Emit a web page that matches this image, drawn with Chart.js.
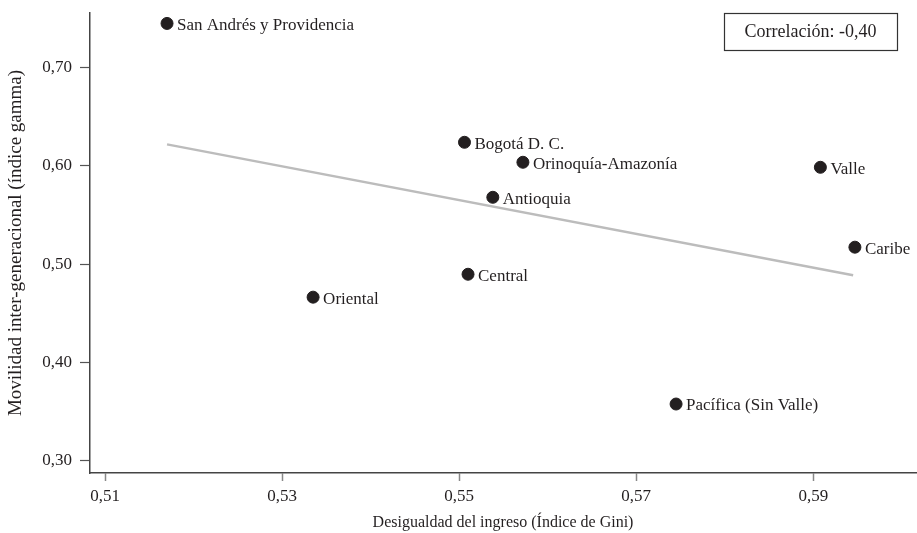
<!DOCTYPE html>
<html>
<head>
<meta charset="utf-8">
<script src="https://cdn.jsdelivr.net/npm/chart.js@4.4.0/dist/chart.umd.min.js"></script>
<style>
  html, body { margin: 0; padding: 0; background: #fff; }
  #wrap { width: 917px; height: 533px; }
</style>
</head>
<body>
<div id="wrap"><canvas id="giniChart"></canvas></div>
<script>
var regions = ['San Andrés y Providencia', 'Bogotá D. C.', 'Orinoquía-Amazonía', 'Antioquia',
    'Valle', 'Caribe', 'Central', 'Oriental', 'Pacífica (Sin Valle)'];
var gini = [0.5170, 0.5506, 0.5572, 0.5538, 0.5908, 0.5947, 0.5510, 0.5335, 0.5745];
var gamma = [0.7447, 0.6239, 0.6036, 0.5680, 0.5985, 0.5173, 0.4898, 0.4665, 0.3579];
var xTicks = [0.51, 0.53, 0.55, 0.57, 0.59];
var yTicks = [0.30, 0.40, 0.50, 0.60, 0.70];
var trendX = [0.5170, 0.5945];
var trendY = [0.6218, 0.4888];
var correlation = 'Correlación: -0,40';

var serif = "'Liberation Serif', 'DejaVu Serif', serif";
var ink = '#231f20';

function comma(v) {
    return v.toFixed(2).replace('.', ',');
}

var points = gini.map(function (g, i) { return { x: g, y: gamma[i] }; });
var trend = trendX.map(function (t, i) { return { x: t, y: trendY[i] }; });

// labels next to each dot + the correlation box
var labelPlugin = {
    id: 'labels',
    afterDatasetsDraw: function (chart) {
        var ctx = chart.ctx;
        var meta = chart.getDatasetMeta(1);
        ctx.save();
        ctx.font = '17px ' + serif;
        ctx.fillStyle = ink;
        ctx.textBaseline = 'middle';
        ctx.textAlign = 'left';
        meta.data.forEach(function (el, i) {
            ctx.fillText(regions[i], el.x + 10, el.y + 2);
        });

        var area = chart.chartArea;
        var bx = area.right - 192, by = area.top, bw = 173, bh = 37;
        ctx.strokeStyle = '#333';
        ctx.lineWidth = 1.2;
        ctx.strokeRect(bx + 0.5, by + 0.5, bw, bh);
        ctx.font = '18px ' + serif;
        ctx.textAlign = 'center';
        ctx.fillText(correlation, bx + bw / 2, by + bh / 2 + 1);
        ctx.restore();
    }
};

var ctx = document.getElementById('giniChart').getContext('2d');

var config = {
    type: 'scatter',
    data: {
        datasets: [
            {
                type: 'line',
                data: trend,
                borderColor: '#bcbcbc',
                borderWidth: 2.5,
                pointRadius: 0,
                order: 2,
            },
            {
                data: points,
                backgroundColor: ink,
                borderColor: ink,
                pointRadius: 6,
                order: 1,
            },
        ],
    },
    options: {
        responsive: true,
        maintainAspectRatio: false,
        animation: false,
        layout: { autoPadding: false, padding: { top: 13, right: 1, left: 0, bottom: 0 } },
        plugins: {
            legend: { display: false },
            tooltip: { enabled: false },
        },
        scales: {
            x: {
                type: 'linear',
                min: 0.5083,
                max: 0.6016,
                afterBuildTicks: function (scale) {
                    scale.ticks = xTicks.map(function (v) { return { value: v }; });
                },
                afterFit: function (scale) {
                    scale.height = 60;
                    scale.paddingLeft = 0;
                    scale.paddingRight = 0;
                },
                ticks: {
                    callback: function (v) { return comma(v); },
                    font: { family: serif, size: 17 },
                    color: ink,
                    padding: 5,
                    maxRotation: 0,
                },
                grid: {
                    drawOnChartArea: false,
                    drawTicks: true,
                    tickLength: 8,
                    tickColor: '#888',
                    tickWidth: 1.5,
                },
                border: { color: '#444', width: 1.5 },
                title: {
                    display: true,
                    text: 'Desigualdad del ingreso (Índice de Gini)',
                    font: { family: serif, size: 16 },
                    color: ink,
                    padding: { top: 0, bottom: 1 },
                },
            },
            y: {
                type: 'linear',
                min: 0.2878,
                max: 0.7553,
                afterBuildTicks: function (scale) {
                    scale.ticks = yTicks.map(function (v) { return { value: v }; });
                },
                afterFit: function (scale) {
                    scale.width = 90;
                    scale.paddingTop = 0;
                    scale.paddingBottom = 0;
                },
                ticks: {
                    callback: function (v) { return comma(v); },
                    font: { family: serif, size: 17 },
                    color: ink,
                    padding: 8,
                },
                grid: {
                    drawOnChartArea: false,
                    drawTicks: true,
                    tickLength: 10,
                    tickColor: '#555',
                    tickWidth: 1.2,
                },
                border: { color: '#444', width: 1.5 },
                title: {
                    display: true,
                    text: 'Movilidad inter-generacional (índice gamma)',
                    font: { family: serif, size: 19 },
                    color: ink,
                    padding: { top: 5, bottom: 0 },
                },
            },
        },
    },
    plugins: [labelPlugin],
};

var giniChart = new Chart(ctx, config);
</script>
</body>
</html>
